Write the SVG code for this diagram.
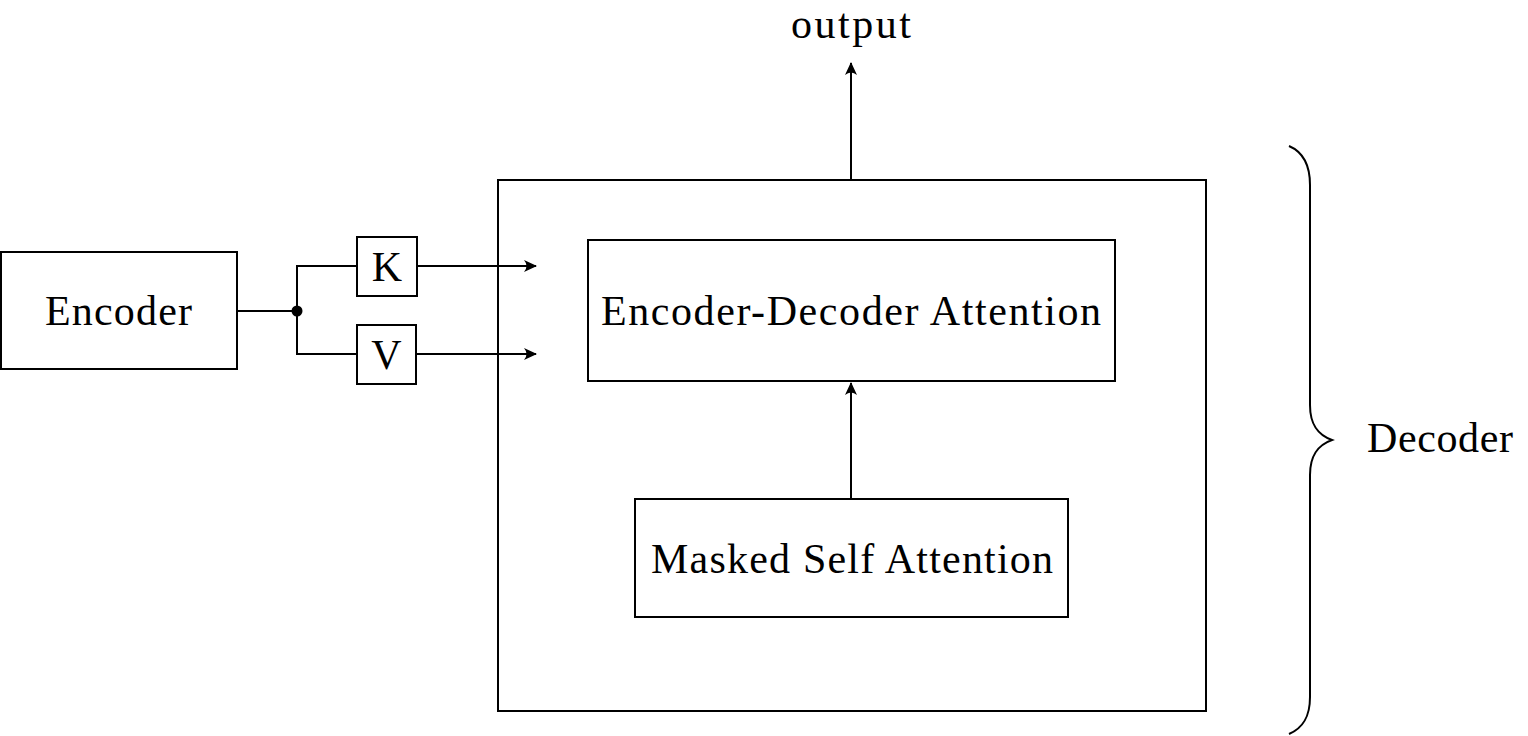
<svg xmlns="http://www.w3.org/2000/svg" width="1528" height="736" viewBox="0 0 1528 736">
<defs>
<style>
.box{fill:none;stroke:#000;stroke-width:2}
.ln{fill:none;stroke:#000;stroke-width:2}
text{font-family:"Liberation Serif","Times New Roman",serif;font-size:42px;fill:#000}
.c{text-anchor:middle}
</style>
<marker id="ah" viewBox="-14 -7 16 14" refX="0" refY="0" markerWidth="16" markerHeight="14" markerUnits="userSpaceOnUse" orient="auto">
<path d="M1,0 L-12,-6 Q-7,0 -12,6 Z" fill="#000"/>
</marker>
</defs>
<rect width="1528" height="736" fill="#fff"/>
<g id="connectors">
<path class="ln" d="M237,311 H297"/>
<path class="ln" d="M357,266 H297 V354 H357"/>
<circle cx="297" cy="311" r="5.5" fill="#000"/>
<path class="ln" d="M417,266 H536" marker-end="url(#ah)"/>
<path class="ln" d="M417,354 H536" marker-end="url(#ah)"/>
<path class="ln" d="M851,499 V383" marker-end="url(#ah)"/>
<path class="ln" d="M851,180 V63" marker-end="url(#ah)"/>
</g>
<g id="encoder">
<rect class="box" x="1" y="252" width="236" height="117"/>
<text class="c" x="118.5" y="325" textLength="147">Encoder</text>
</g>
<g id="k">
<rect class="box" x="357" y="237" width="60" height="59"/>
<text class="c" x="387" y="281">K</text>
</g>
<g id="v">
<rect class="box" x="357" y="325" width="59" height="59"/>
<text class="c" x="386.5" y="369">V</text>
</g>
<g id="decoder-box">
<rect class="box" x="498" y="180" width="708" height="531"/>
</g>
<g id="enc-dec-attention">
<rect class="box" x="588" y="240" width="527" height="141"/>
<text class="c" x="851" y="325" textLength="500">Encoder-Decoder Attention</text>
</g>
<g id="masked-self-attention">
<rect class="box" x="635" y="499" width="433" height="118"/>
<text class="c" x="852" y="573" textLength="402">Masked Self Attention</text>
</g>
<g id="output">
<text class="c" x="851" y="38" textLength="120">output</text>
</g>
<g id="decoder-brace">
<path class="ln" d="M1289,146 C1303,152 1310,165 1310,185 L1310,405 C1310,425 1318,435 1332,440 C1318,445 1310,455 1310,475 L1310,697 C1310,717 1303,728 1289,734"/>
<text x="1367" y="452" textLength="146">Decoder</text>
</g>
</svg>
